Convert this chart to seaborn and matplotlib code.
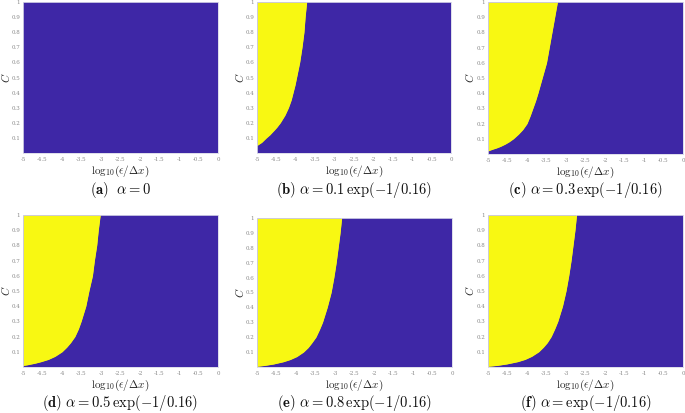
"""
Stability maps in the (log10(eps/dx), C) plane for several alpha values.
"""

import matplotlib

matplotlib.use("Agg")
import matplotlib.pyplot as plt
import pandas as pd
import seaborn as sns

# panel captions
captions = [
    r"$\mathbf{(a)}\ \ \alpha = 0$",
    r"$\mathbf{(b)}\ \alpha = 0.1\,\exp(-1/0.16)$",
    r"$\mathbf{(c)}\ \alpha = 0.3\,\exp(-1/0.16)$",
    r"$\mathbf{(d)}\ \alpha = 0.5\,\exp(-1/0.16)$",
    r"$\mathbf{(e)}\ \alpha = 0.8\,\exp(-1/0.16)$",
    r"$\mathbf{(f)}\ \alpha = \exp(-1/0.16)$",
]

# boundary of the yellow region: C levels and log10(eps/dx)
c_a = []
x_a = []
c_b = [0.05, 0.07, 0.1, 0.12, 0.15, 0.17, 0.2, 0.25, 0.3, 0.35, 0.4, 0.45, 0.5,
       0.6, 0.7, 0.8, 0.9, 1.0]
x_b = [-5.0, -4.88, -4.76, -4.67, -4.56, -4.49, -4.40, -4.28, -4.19, -4.12, -4.07,
       -4.02, -3.98, -3.90, -3.84, -3.79, -3.76, -3.72]
c_c = [0.02, 0.03, 0.04, 0.05, 0.065, 0.08, 0.1, 0.13, 0.16, 0.2, 0.25, 0.3, 0.35,
       0.4, 0.5, 0.6, 0.7, 0.8, 0.9, 1.0]
x_c = [-5.0, -4.9, -4.78, -4.68, -4.56, -4.46, -4.35, -4.22, -4.11, -4.0, -3.92,
       -3.85, -3.78, -3.72, -3.61, -3.50, -3.43, -3.36, -3.29, -3.22]
c_d = [0.01, 0.015, 0.025, 0.035, 0.05, 0.07, 0.1, 0.13, 0.16, 0.2, 0.25, 0.3, 0.35,
       0.4, 0.5, 0.6, 0.7, 0.8, 0.9, 1.0]
x_d = [-5.0, -4.88, -4.69, -4.54, -4.35, -4.18, -4.0, -3.88, -3.78, -3.67, -3.58,
       -3.51, -3.45, -3.39, -3.31, -3.22, -3.17, -3.11, -3.07, -3.02]
c_e = [0.005, 0.01, 0.02, 0.035, 0.05, 0.07, 0.1, 0.13, 0.16, 0.2, 0.25, 0.3, 0.35,
       0.4, 0.5, 0.6, 0.7, 0.8, 0.9, 1.0]
x_e = [-5.0, -4.82, -4.58, -4.33, -4.15, -3.98, -3.81, -3.69, -3.60, -3.49, -3.40,
       -3.32, -3.26, -3.20, -3.10, -3.03, -2.97, -2.92, -2.87, -2.83]
c_f = [0.005, 0.01, 0.02, 0.035, 0.05, 0.07, 0.1, 0.13, 0.16, 0.2, 0.25, 0.3, 0.35,
       0.4, 0.5, 0.6, 0.7, 0.8, 0.9, 1.0]
x_f = [-5.0, -4.78, -4.52, -4.24, -4.05, -3.88, -3.70, -3.58, -3.48, -3.38, -3.29,
       -3.21, -3.15, -3.09, -3.00, -2.93, -2.87, -2.82, -2.77, -2.73]

x_ticks = [-5, -4.5, -4, -3.5, -3, -2.5, -2, -1.5, -1, -0.5, 0]
y_ticks = [0.1, 0.2, 0.3, 0.4, 0.5, 0.6, 0.7, 0.8, 0.9, 1]
x_tick_labels = ["-5", "-4.5", "-4", "-3.5", "-3", "-2.5", "-2", "-1.5", "-1", "-0.5", "0"]
y_tick_labels = ["0.1", "0.2", "0.3", "0.4", "0.5", "0.6", "0.7", "0.8", "0.9", "1"]

BLUE = "#3e27a6"
YELLOW = "#f8f812"

sns.set_theme(style="white")
plt.rcParams["mathtext.fontset"] = "cm"
plt.rcParams["font.family"] = ["DejaVu Serif"]

W, H = 685, 413
fig = plt.figure(figsize=(W / 100, H / 100), dpi=100)

# axes boxes in pixels: left, top, right, bottom, caption centre y
boxes = [
    (23, 2, 218, 153, 190),
    (257, 2, 451, 153, 190),
    (488, 2, 683, 154, 190),
    (23, 215, 218, 367, 403),
    (257, 218, 452, 367, 403),
    (488, 215, 683, 367, 403),
]
curves = [(c_a, x_a), (c_b, x_b), (c_c, x_c), (c_d, x_d), (c_e, x_e), (c_f, x_f)]

for (l, t, r, b, cy), (cs, xs), cap in zip(boxes, curves, captions):
    ax = fig.add_axes([l / W, 1 - b / H, (r - l) / W, (b - t) / H])
    ax.set_facecolor(BLUE)
    if cs:
        df = pd.DataFrame({"C": cs, "x": xs})
        ax.fill_betweenx(df["C"], -5, df["x"], color=YELLOW, linewidth=0)
        sns.lineplot(data=df, x="x", y="C", orient="y", ax=ax,
                     color=YELLOW, linewidth=0.6, sort=False)
    ax.set_xlim(-5, 0)
    ax.set_ylim(0, 1)
    ax.set_xticks(x_ticks)
    ax.set_xticklabels(x_tick_labels)
    ax.set_yticks(y_ticks)
    ax.set_yticklabels(y_tick_labels)
    ax.tick_params(axis="x", labelsize=4, colors="#888888", length=0, pad=3)
    ax.tick_params(axis="y", labelsize=4, colors="#888888", length=0, pad=2)
    for sp in ax.spines.values():
        sp.set_color("#d8d8e8")
        sp.set_linewidth(0.6)
    ax.set_xlabel(r"$\log_{10}\!(\epsilon/\Delta x)$", fontsize=8, labelpad=1, color="#222222")
    ax.set_ylabel(r"$C$", fontsize=8, color="#222222")
    ax.yaxis.set_label_coords(-11.5 / (r - l), 0.5)
    fig.text((l + r) / 2 / W, 1 - cy / H, cap, ha="center", va="center",
             fontsize=10.5, color="#111111")

fig.savefig("out.png", dpi=100, facecolor="white")
